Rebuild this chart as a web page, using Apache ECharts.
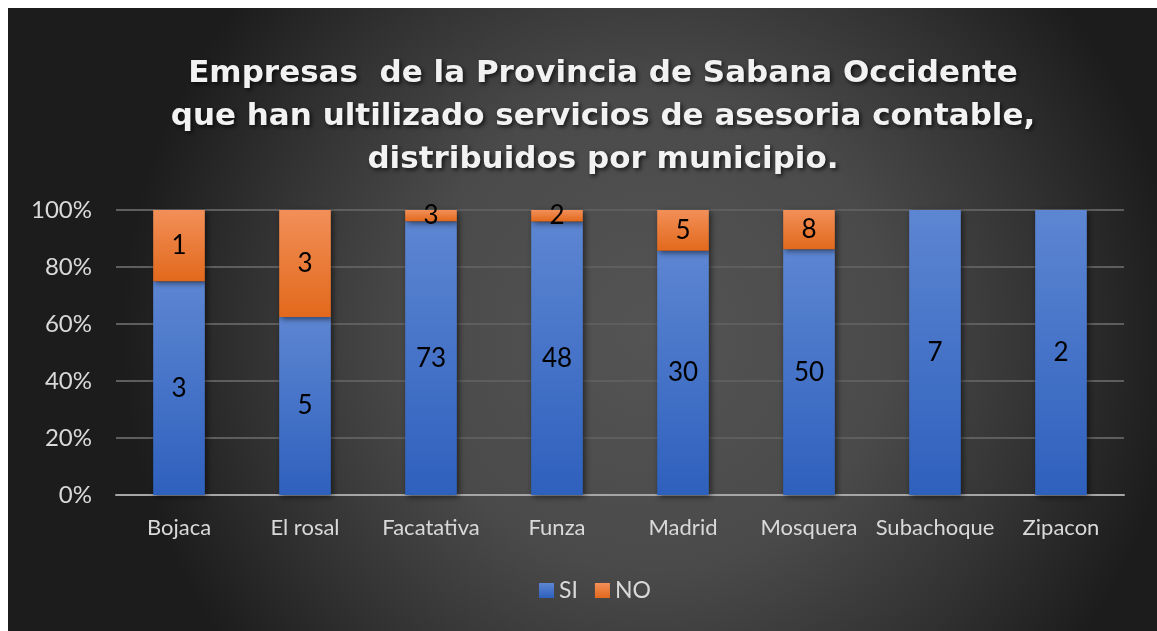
<!DOCTYPE html>
<html>
<head>
<meta charset="utf-8">
<script src="https://cdn.jsdelivr.net/npm/echarts@6/dist/echarts.min.js"></script>
<style>
  html, body { margin: 0; padding: 0; background: #ffffff; }
  #chart { position: absolute; left: 8px; top: 8px; width: 1149px; height: 623px; }
</style>
</head>
<body>
<div id="chart"></div>
<script>
// municipios y respuestas (conteos absolutos)
const municipios = ['Bojaca', 'El rosal', 'Facatativa', 'Funza', 'Madrid', 'Mosquera', 'Subachoque', 'Zipacon'];
const valoresSI = [3, 5, 73, 48, 30, 50, 7, 2];
const valoresNO = [1, 3, 3, 2, 5, 8, 0, 0];
const ticksY = [0, 20, 40, 60, 80, 100];

const chart = echarts.init(document.getElementById('chart'));

// convertir a porcentaje (columna apilada al 100%)
function aPorcentaje(valores) {
    return valores.map((v, i) => {
        const total = valoresSI[i] + valoresNO[i];
        return { value: v / total * 100, raw: v };
    });
}

function degradado(arriba, abajo) {
    return new echarts.graphic.LinearGradient(0, 0, 0, 1, [
        { offset: 0, color: arriba },
        { offset: 1, color: abajo }
    ]);
}

const estiloEtiqueta = {
    show: true,
    position: 'inside',
    color: '#000000',
    fontFamily: 'Lato',
    fontSize: 26,
    formatter: p => (p.data.raw > 0 ? p.data.raw : '')
};

const sombra = {
    shadowColor: 'rgba(0,0,0,0.55)',
    shadowBlur: 6,
    shadowOffsetX: 2,
    shadowOffsetY: 2
};

const option = {
    backgroundColor: new echarts.graphic.RadialGradient(0.56, 0.52, 0.85, [
        { offset: 0, color: '#545454' },
        { offset: 0.45, color: '#4a4a4a' },
        { offset: 0.75, color: '#323232' },
        { offset: 1, color: '#1c1c1c' }
    ]),
    title: {
        text: 'Empresas  de la Provincia de Sabana Occidente\nque han ultilizado servicios de asesoria contable,\ndistribuidos por municipio.',
        left: 590,
        top: 39,
        textAlign: 'center',
        textStyle: {
            color: '#f2f2f2',
            fontFamily: 'DejaVu Sans',
            fontWeight: 'bold',
            fontSize: 31,
            lineHeight: 43,
            textShadowColor: 'rgba(0,0,0,0.7)',
            textShadowBlur: 4,
            textShadowOffsetX: 2,
            textShadowOffsetY: 2
        }
    },
    legend: {
        data: ['SI', 'NO'],
        left: 526,
        top: 566,
        itemWidth: 15,
        itemHeight: 15,
        itemGap: 17,
        icon: 'rect',
        textStyle: { color: '#d9d9d9', fontFamily: 'Lato', fontSize: 23 }
    },
    grid: { left: 108, right: 33, top: 202, bottom: 136 },
    xAxis: {
        type: 'category',
        data: municipios,
        axisLine: { lineStyle: { color: '#a6a6a6', width: 2 } },
        axisTick: { show: false },
        axisLabel: { color: '#d9d9d9', fontFamily: 'Lato', fontSize: 22, margin: 22, interval: 0 }
    },
    yAxis: {
        type: 'value',
        min: ticksY[0],
        max: ticksY[ticksY.length - 1],
        interval: 20,
        axisLine: { show: false },
        axisTick: { show: false },
        axisLabel: { color: '#d9d9d9', fontFamily: 'Lato', fontSize: 24, margin: 24, formatter: '{value}%' },
        splitLine: { lineStyle: { color: '#5e5e5e', width: 2 } }
    },
    series: [
        {
            name: 'SI',
            type: 'bar',
            stack: 'total',
            barWidth: '41%',
            data: aPorcentaje(valoresSI),
            itemStyle: Object.assign({ color: degradado('#5d86d2', '#2e60bd') }, sombra),
            label: estiloEtiqueta
        },
        {
            name: 'NO',
            type: 'bar',
            stack: 'total',
            data: aPorcentaje(valoresNO),
            itemStyle: Object.assign({ color: degradado('#f28f58', '#e2691c') }, sombra),
            label: estiloEtiqueta
        }
    ]
};

chart.setOption(option);
</script>
</body>
</html>
